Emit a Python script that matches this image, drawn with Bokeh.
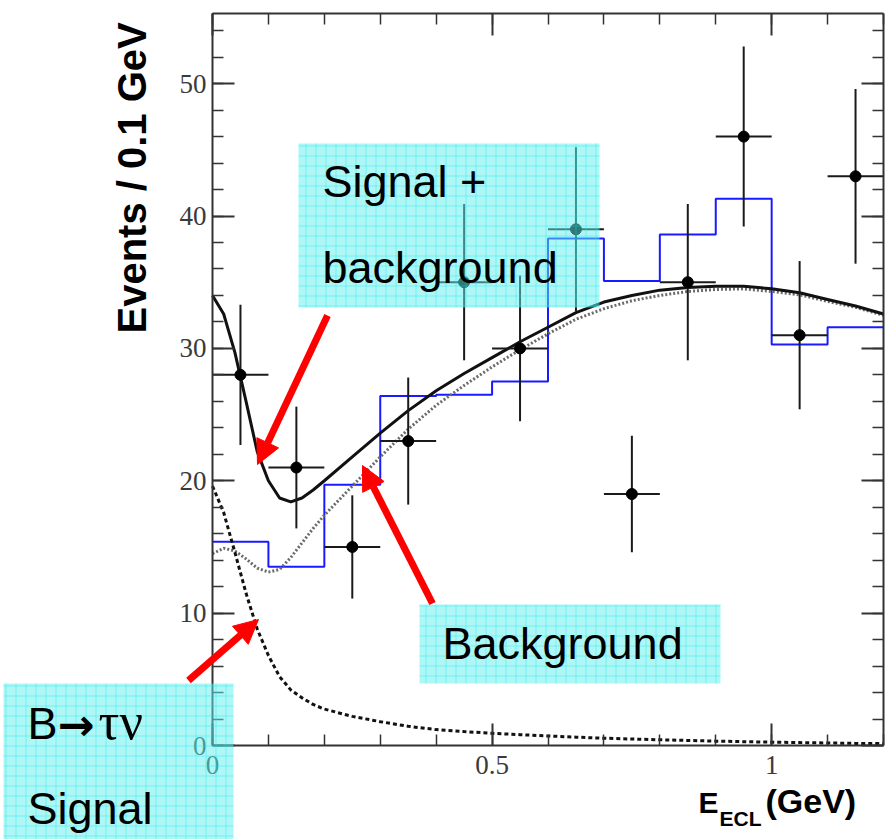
import math
from bokeh.plotting import figure
from bokeh.models import (LinearAxis, SingleIntervalTicker, BoxAnnotation, Label,
                          Arrow, NormalHead, CustomJSTickFormatter)
from bokeh.embed import file_html
from bokeh.resources import INLINE

# ---------------- data ----------------
bin_centers = [0.05, 0.15, 0.25, 0.35, 0.45, 0.55, 0.65, 0.75, 0.85, 0.95, 1.05, 1.15]
data_counts = [28, 21, 15, 23, 35, 30, 39, 19, 35, 46, 31, 43]
data_errors = [5.3, 4.6, 3.9, 4.8, 5.9, 5.5, 6.2, 4.4, 5.9, 6.8, 5.6, 6.6]
bin_half_width = 0.05

hist_edges = [0.0, 0.1, 0.2, 0.3, 0.4, 0.5, 0.6, 0.7, 0.8, 0.9, 1.0, 1.1, 1.2]
hist_values = [15.4, 13.5, 19.7, 26.4, 26.5, 27.5, 38.3, 35.1, 38.6, 41.3, 30.3, 31.6]

curve_x = [0.0, 0.02, 0.04, 0.06, 0.08, 0.10, 0.12, 0.14, 0.16, 0.18, 0.20,
           0.25, 0.30, 0.35, 0.40, 0.45, 0.50, 0.55, 0.60, 0.65, 0.70, 0.75,
           0.80, 0.85, 0.90, 0.95, 1.00, 1.05, 1.10, 1.15, 1.20]
total_fit = [34.0, 32.6, 29.7, 26.0, 22.2, 20.0, 18.7, 18.4, 18.7, 19.3, 20.0,
             21.8, 23.6, 25.3, 26.8, 28.1, 29.3, 30.5, 31.6, 32.7, 33.5, 34.0,
             34.4, 34.6, 34.7, 34.7, 34.5, 34.2, 33.7, 33.2, 32.6]
background_fit = [14.5, 14.9, 14.7, 14.1, 13.4, 13.1, 13.3, 14.2, 15.3, 16.4, 17.4,
                  19.6, 21.8, 23.9, 25.7, 27.2, 28.6, 29.9, 31.1, 32.2, 33.0, 33.6,
                  34.0, 34.3, 34.45, 34.5, 34.3, 34.05, 33.55, 33.1, 32.5]
signal_fit = [19.6, 17.6, 14.6, 11.5, 8.8, 6.8, 5.2, 4.2, 3.6, 3.1, 2.75,
              2.2, 1.8, 1.45, 1.2, 1.05, 0.92, 0.82, 0.72, 0.63, 0.55, 0.49,
              0.43, 0.38, 0.33, 0.29, 0.25, 0.22, 0.19, 0.16, 0.14]

y_label_text = "Events / 0.1 GeV"
x_label_main = "E"
x_label_sub = "ECL"
x_label_unit = "(GeV)"

# ---------------- layout (pixels) ----------------
W, H = 885, 839
FL, FR, FT, FB = 212, 883, 13, 745      # axes box edges in canvas px
XMAX, YMAX = 1.2, 55.3
sx = (FR - FL) / XMAX
sy = (FB - FT) / YMAX

def dx(px):
    return (px - FL) / sx

def dy(py):
    return (FB - py) / sy

# the plotting frame covers the whole canvas; axes sit at fixed data locations
p = figure(width=W, height=H, x_range=(dx(0), dx(W)), y_range=(dy(H), dy(0)),
           min_border=0, output_backend="svg", toolbar_location=None,
           background_fill_color="white", border_fill_color="white")
p.outline_line_color = None
p.xgrid.visible = False
p.ygrid.visible = False

AX_COLOR = "#333333"
TICK_FONT = "Liberation Serif"

def style_axis(ax, show_labels):
    ax.axis_line_width = 2
    ax.axis_line_color = AX_COLOR
    ax.major_tick_line_color = AX_COLOR
    ax.minor_tick_line_color = AX_COLOR
    ax.major_tick_line_width = 2
    ax.minor_tick_line_width = 1.5
    ax.major_tick_in = 22
    ax.major_tick_out = 0
    ax.minor_tick_in = 11
    ax.minor_tick_out = 0
    ax.axis_label = None
    if show_labels:
        ax.major_label_text_font = TICK_FONT
        ax.major_label_text_font_size = "27px"
        ax.major_label_text_color = "#3a3a3a"
    else:
        ax.major_label_text_font_size = "0px"
        ax.major_label_standoff = 0
        ax.formatter = CustomJSTickFormatter(code="return ''")

xax = p.xaxis[0]
yax = p.yaxis[0]
xax.ticker = SingleIntervalTicker(interval=0.5, num_minor_ticks=5)
xax.formatter = CustomJSTickFormatter(code="return String(Math.round(tick*10)/10)")
yax.ticker = SingleIntervalTicker(interval=10, num_minor_ticks=5)
style_axis(xax, True)
style_axis(yax, True)
xax.major_label_standoff = 10
yax.major_label_standoff = 6
xax.fixed_location = 0
yax.fixed_location = 0
xax.bounds = (0, XMAX)
yax.bounds = (0, YMAX)

top_ax = LinearAxis(ticker=SingleIntervalTicker(interval=0.5, num_minor_ticks=5))
right_ax = LinearAxis(ticker=SingleIntervalTicker(interval=10, num_minor_ticks=5))
style_axis(top_ax, False)
style_axis(right_ax, False)
top_ax.fixed_location = YMAX
right_ax.fixed_location = XMAX
top_ax.bounds = (0, XMAX)
right_ax.bounds = (0, YMAX)
p.add_layout(top_ax, "above")
p.add_layout(right_ax, "right")

# ---------------- glyphs ----------------
p.step(x=hist_edges, y=hist_values + [hist_values[-1]], mode="after",
       line_color="#1a1aff", line_width=2)

p.line(curve_x, background_fit, line_color="#6a6a6a", line_width=3, line_dash="2 2")
p.line(curve_x, signal_fit, line_color="#111111", line_width=3, line_dash="4 3")
p.line(curve_x, total_fit, line_color="#111111", line_width=3)

lo = [c - e for c, e in zip(data_counts, data_errors)]
hi = [c + e for c, e in zip(data_counts, data_errors)]
x_lo = [c - bin_half_width for c in bin_centers]
x_hi = [c + bin_half_width for c in bin_centers]
p.segment(x0=bin_centers, y0=lo, x1=bin_centers, y1=hi, line_color="#1a1a1a", line_width=2)
p.segment(x0=x_lo, y0=data_counts, x1=x_hi, y1=data_counts, line_color="#1a1a1a", line_width=2)
p.scatter(bin_centers, data_counts, size=11, color="black")

# ---------------- annotations ----------------
def cyan_box(l, r, t, b):
    box = BoxAnnotation(left=dx(l), right=dx(r), top=dy(t), bottom=dy(b),
                        fill_color="#60f0f0", fill_alpha=0.5, line_color=None,
                        hatch_pattern="+", hatch_color="#00e8e8", hatch_alpha=0.35,
                        hatch_scale=10, hatch_weight=1, level="overlay")
    p.add_layout(box)

cyan_box(298, 599, 143, 307)
cyan_box(419, 720, 604, 683)
cyan_box(3, 233, 683, 839)

BOX_FONT = "Liberation Sans"
BASE_SHIFT = 0.37   # empirical offset of the alphabetic baseline, in em

def label(px, py, text, size, font=BOX_FONT, style="normal", align="left",
          baseline="alphabetic", angle=0.0, color="black"):
    if baseline == "alphabetic":
        py = py - BASE_SHIFT * size
    p.add_layout(Label(x=dx(px), y=dy(py), text=text, text_font=font,
                       text_font_size=f"{size}px", text_font_style=style,
                       text_align=align, text_baseline=baseline, angle=angle,
                       text_color=color, level="overlay"))

label(322, 198, "Signal +", 45)
label(322, 284, "background", 45)
label(442, 660, "Background", 45)
label(27, 740, "B", 45)
label(57, 740, "\u2192", 44, font="DejaVu Sans", style="bold")
label(98, 740, "\u03c4\u03bd", 52, font="Liberation Serif")
label(27, 825, "Signal", 45)

# axis titles
label(131, 333, y_label_text, 40, style="bold", baseline="middle", angle=math.pi / 2)
label(698, 813, x_label_main, 30, style="bold")
label(719, 826, x_label_sub, 21, style="bold")
label(765, 813, x_label_unit, 34, style="bold")

# arrows
def red_arrow(x0, y0, x1, y1):
    p.add_layout(Arrow(x_start=dx(x0), y_start=dy(y0), x_end=dx(x1), y_end=dy(y1),
                       line_color="#ff0000", line_width=7,
                       end=NormalHead(size=24, fill_color="#ff0000", line_color="#ff0000",
                                      line_width=1),
                       level="overlay"))

red_arrow(327, 315, 257, 464)
red_arrow(432, 603, 362, 465)
red_arrow(188, 680, 258, 619)

open("out.html", "w").write(file_html(p, INLINE))
